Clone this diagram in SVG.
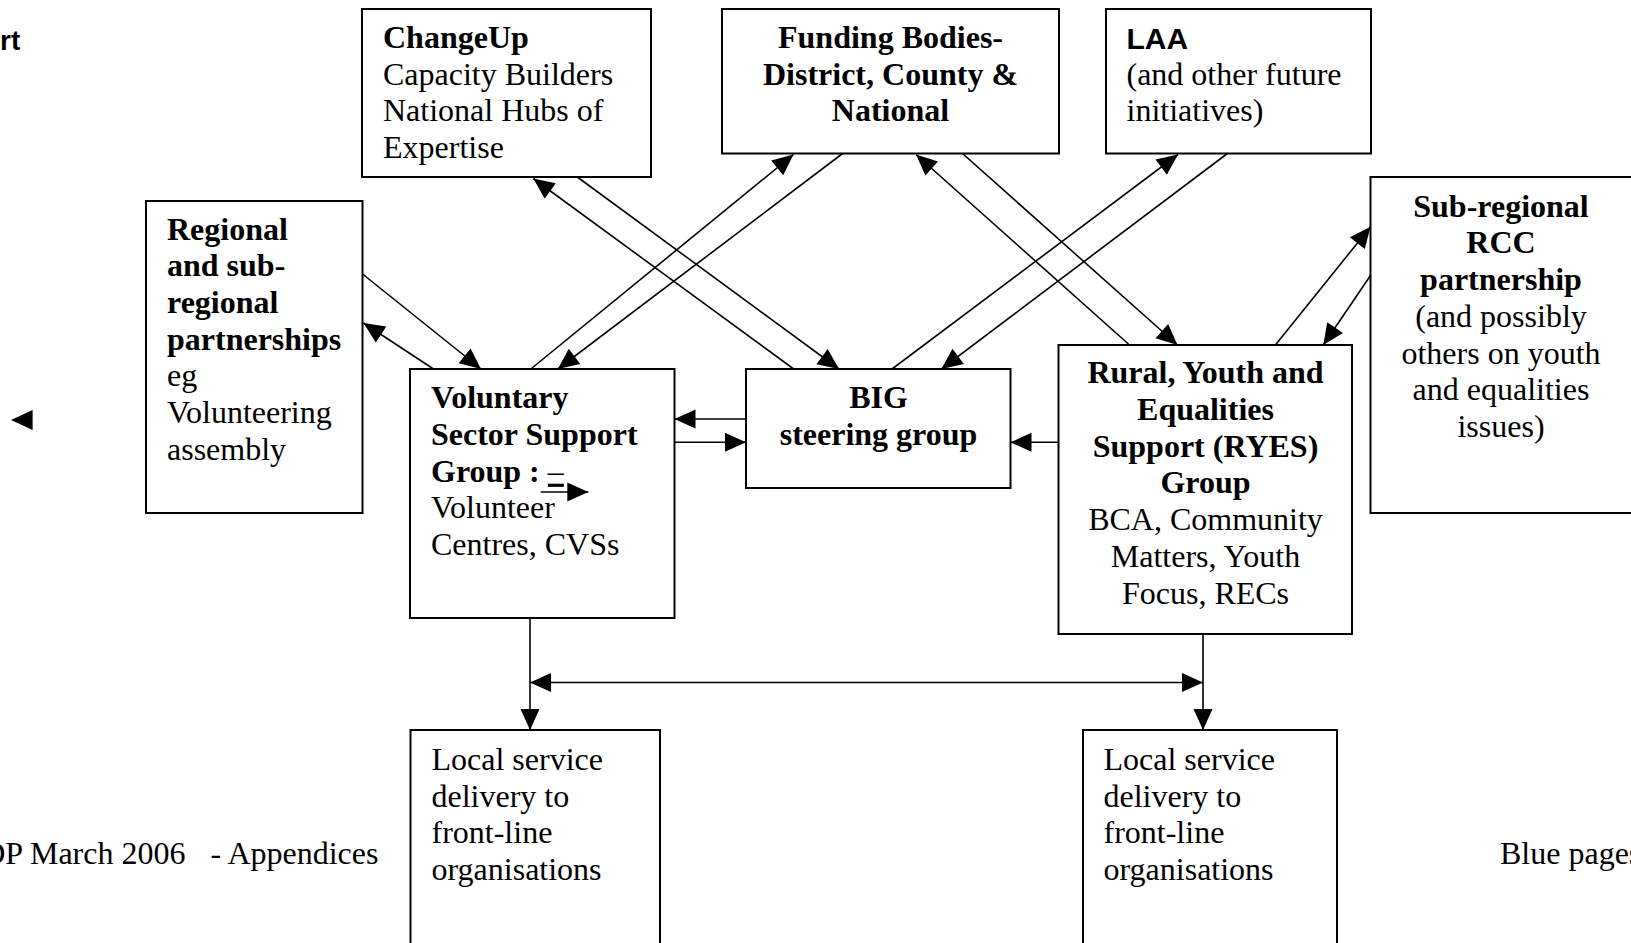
<svg xmlns="http://www.w3.org/2000/svg" width="1631" height="943" viewBox="0 0 1631 943">
<style>
  .box { fill: #fff; stroke: #000; stroke-width: 2; }
  .t { font-family: "Liberation Serif", "Times New Roman", serif; font-size: 32px; fill: #000; }
  .b { font-weight: bold; }
  .c { text-anchor: middle; }
  .sans { font-family: "Liberation Sans", Arial, sans-serif; font-weight: bold; fill: #000; }
  .ln { stroke: #000; stroke-width: 1.6; fill: none; marker-end: url(#ah); }
  .ln2 { stroke: #000; stroke-width: 1.6; fill: none; marker-end: url(#ah); marker-start: url(#ahs); }
  .pl { stroke: #000; stroke-width: 1.6; fill: none; }
</style>
<defs>
  <marker id="ah" markerUnits="userSpaceOnUse" markerWidth="21" markerHeight="19" refX="21" refY="9.5" orient="auto" overflow="visible">
    <path d="M0,0 L21,9.5 L0,19 z" fill="#000"/>
  </marker>
  <marker id="ahs" markerUnits="userSpaceOnUse" markerWidth="21" markerHeight="19" refX="0" refY="9.5" orient="auto" overflow="visible">
    <path d="M21,0 L0,9.5 L21,19 z" fill="#000"/>
  </marker>
</defs>
<rect width="1631" height="943" fill="#fff"/>

<text class="sans" x="0" y="50" font-size="28">rt</text>
<text class="t" x="-17.8" y="864">DP March 2006</text>
<text class="t" x="210.5" y="864">- Appendices</text>
<text class="t" x="1500" y="864">Blue pages</text>
<path d="M11,420 L32.6,410 L32.6,430 z" fill="#000"/>

<g id="changeup">
  <rect class="box" x="362" y="9" width="289" height="168"/>
  <text class="t b" x="383" y="48">ChangeUp</text>
  <text class="t" x="383" y="84.7">Capacity Builders</text>
  <text class="t" x="383" y="121.4">National Hubs of</text>
  <text class="t" x="383" y="158">Expertise</text>
</g>
<g id="funding">
  <rect class="box" x="722" y="9" width="337" height="144.5"/>
  <text class="t b c" x="890.5" y="48">Funding Bodies-</text>
  <text class="t b c" x="890.5" y="84.7">District, County &amp;</text>
  <text class="t b c" x="890.5" y="121.4">National</text>
</g>
<g id="laa">
  <rect class="box" x="1106" y="9" width="265" height="144.5"/>
  <text class="sans" x="1126.5" y="48.5" font-size="30">LAA</text>
  <text class="t" x="1126.5" y="84.7">(and other future</text>
  <text class="t" x="1126.5" y="121.4">initiatives)</text>
</g>
<g id="regional">
  <rect class="box" x="146" y="201" width="216.5" height="312"/>
  <text class="t b" x="167" y="239.5">Regional</text>
  <text class="t b" x="167" y="276.2">and sub-</text>
  <text class="t b" x="167" y="312.9">regional</text>
  <text class="t b" x="167" y="349.6">partnerships</text>
  <text class="t" x="167" y="386.3">eg</text>
  <text class="t" x="167" y="423">Volunteering</text>
  <text class="t" x="167" y="459.7">assembly</text>
</g>
<g id="vssg">
  <rect class="box" x="410" y="369" width="264.5" height="249"/>
  <text class="t b" x="431" y="408.3">Voluntary</text>
  <text class="t b" x="431" y="445">Sector Support</text>
  <text class="t" x="431" y="481.7"><tspan class="b">Group : </tspan><tspan text-decoration="underline">–</tspan></text>
  <text class="t" x="431" y="518.4">Volunteer</text>
  <text class="t" x="431" y="555.1">Centres, CVSs</text>
  <line class="ln" x1="540.7" y1="492" x2="588.3" y2="492"/>
</g>
<g id="big">
  <rect class="box" x="746" y="369" width="264.5" height="119"/>
  <text class="t b c" x="878.5" y="408.3">BIG</text>
  <text class="t b c" x="878.5" y="445">steering group</text>
</g>
<g id="ryes">
  <rect class="box" x="1058.5" y="345" width="293.5" height="289"/>
  <text class="t b c" x="1205.5" y="383.3">Rural, Youth and</text>
  <text class="t b c" x="1205.5" y="420">Equalities</text>
  <text class="t b c" x="1205.5" y="456.7">Support (RYES)</text>
  <text class="t b c" x="1205.5" y="493.4">Group</text>
  <text class="t c" x="1205.5" y="530.1">BCA, Community</text>
  <text class="t c" x="1205.5" y="566.8">Matters, Youth</text>
  <text class="t c" x="1205.5" y="603.5">Focus, RECs</text>
</g>
<g id="subrcc">
  <rect class="box" x="1370.5" y="177" width="275" height="336"/>
  <text class="t b c" x="1501" y="216.7">Sub-regional</text>
  <text class="t b c" x="1501" y="253.4">RCC</text>
  <text class="t b c" x="1501" y="290.1">partnership</text>
  <text class="t c" x="1501" y="326.8">(and possibly</text>
  <text class="t c" x="1501" y="363.5">others on youth</text>
  <text class="t c" x="1501" y="400.2">and equalities</text>
  <text class="t c" x="1501" y="436.9">issues)</text>
</g>
<g id="local-left">
  <rect class="box" x="410.5" y="730" width="249.5" height="240"/>
  <text class="t" x="431.5" y="770">Local service</text>
  <text class="t" x="431.5" y="806.7">delivery to</text>
  <text class="t" x="431.5" y="843.4">front-line</text>
  <text class="t" x="431.5" y="880.1">organisations</text>
</g>
<g id="local-right">
  <rect class="box" x="1083" y="730" width="254" height="240"/>
  <text class="t" x="1103.5" y="770">Local service</text>
  <text class="t" x="1103.5" y="806.7">delivery to</text>
  <text class="t" x="1103.5" y="843.4">front-line</text>
  <text class="t" x="1103.5" y="880.1">organisations</text>
</g>

<g id="connectors">
  <line class="ln" x1="362.5" y1="274" x2="481" y2="369"/>
  <line class="ln" x1="433.5" y1="369" x2="363.5" y2="323"/>
  <line class="ln" x1="793.7" y1="369" x2="533.3" y2="178.5"/>
  <line class="ln" x1="577.3" y1="177" x2="839" y2="369"/>
  <line class="ln" x1="530.8" y1="369" x2="793.5" y2="154.5"/>
  <line class="ln" x1="842.6" y1="153.5" x2="557.8" y2="369"/>
  <line class="ln" x1="892" y1="369" x2="1178" y2="154.5"/>
  <line class="ln" x1="1227.4" y1="153.5" x2="941.4" y2="369"/>
  <line class="ln" x1="1129.5" y1="345" x2="916" y2="154.5"/>
  <line class="ln" x1="962.5" y1="153.5" x2="1177.5" y2="345"/>
  <line class="ln" x1="1275.4" y1="345" x2="1370.5" y2="226.8"/>
  <line class="ln" x1="1370.5" y1="275.5" x2="1323.3" y2="345"/>
  <line class="ln" x1="746" y1="419" x2="674.5" y2="419"/>
  <line class="ln" x1="674.5" y1="442.3" x2="746" y2="442.3"/>
  <line class="ln" x1="1058.5" y1="442.3" x2="1010.5" y2="442.3"/>
  <line class="ln" x1="530" y1="618" x2="530" y2="730"/>
  <line class="ln" x1="1203" y1="634" x2="1203" y2="730"/>
  <line class="ln2" x1="530" y1="682.5" x2="1203" y2="682.5"/>
</g>
</svg>
